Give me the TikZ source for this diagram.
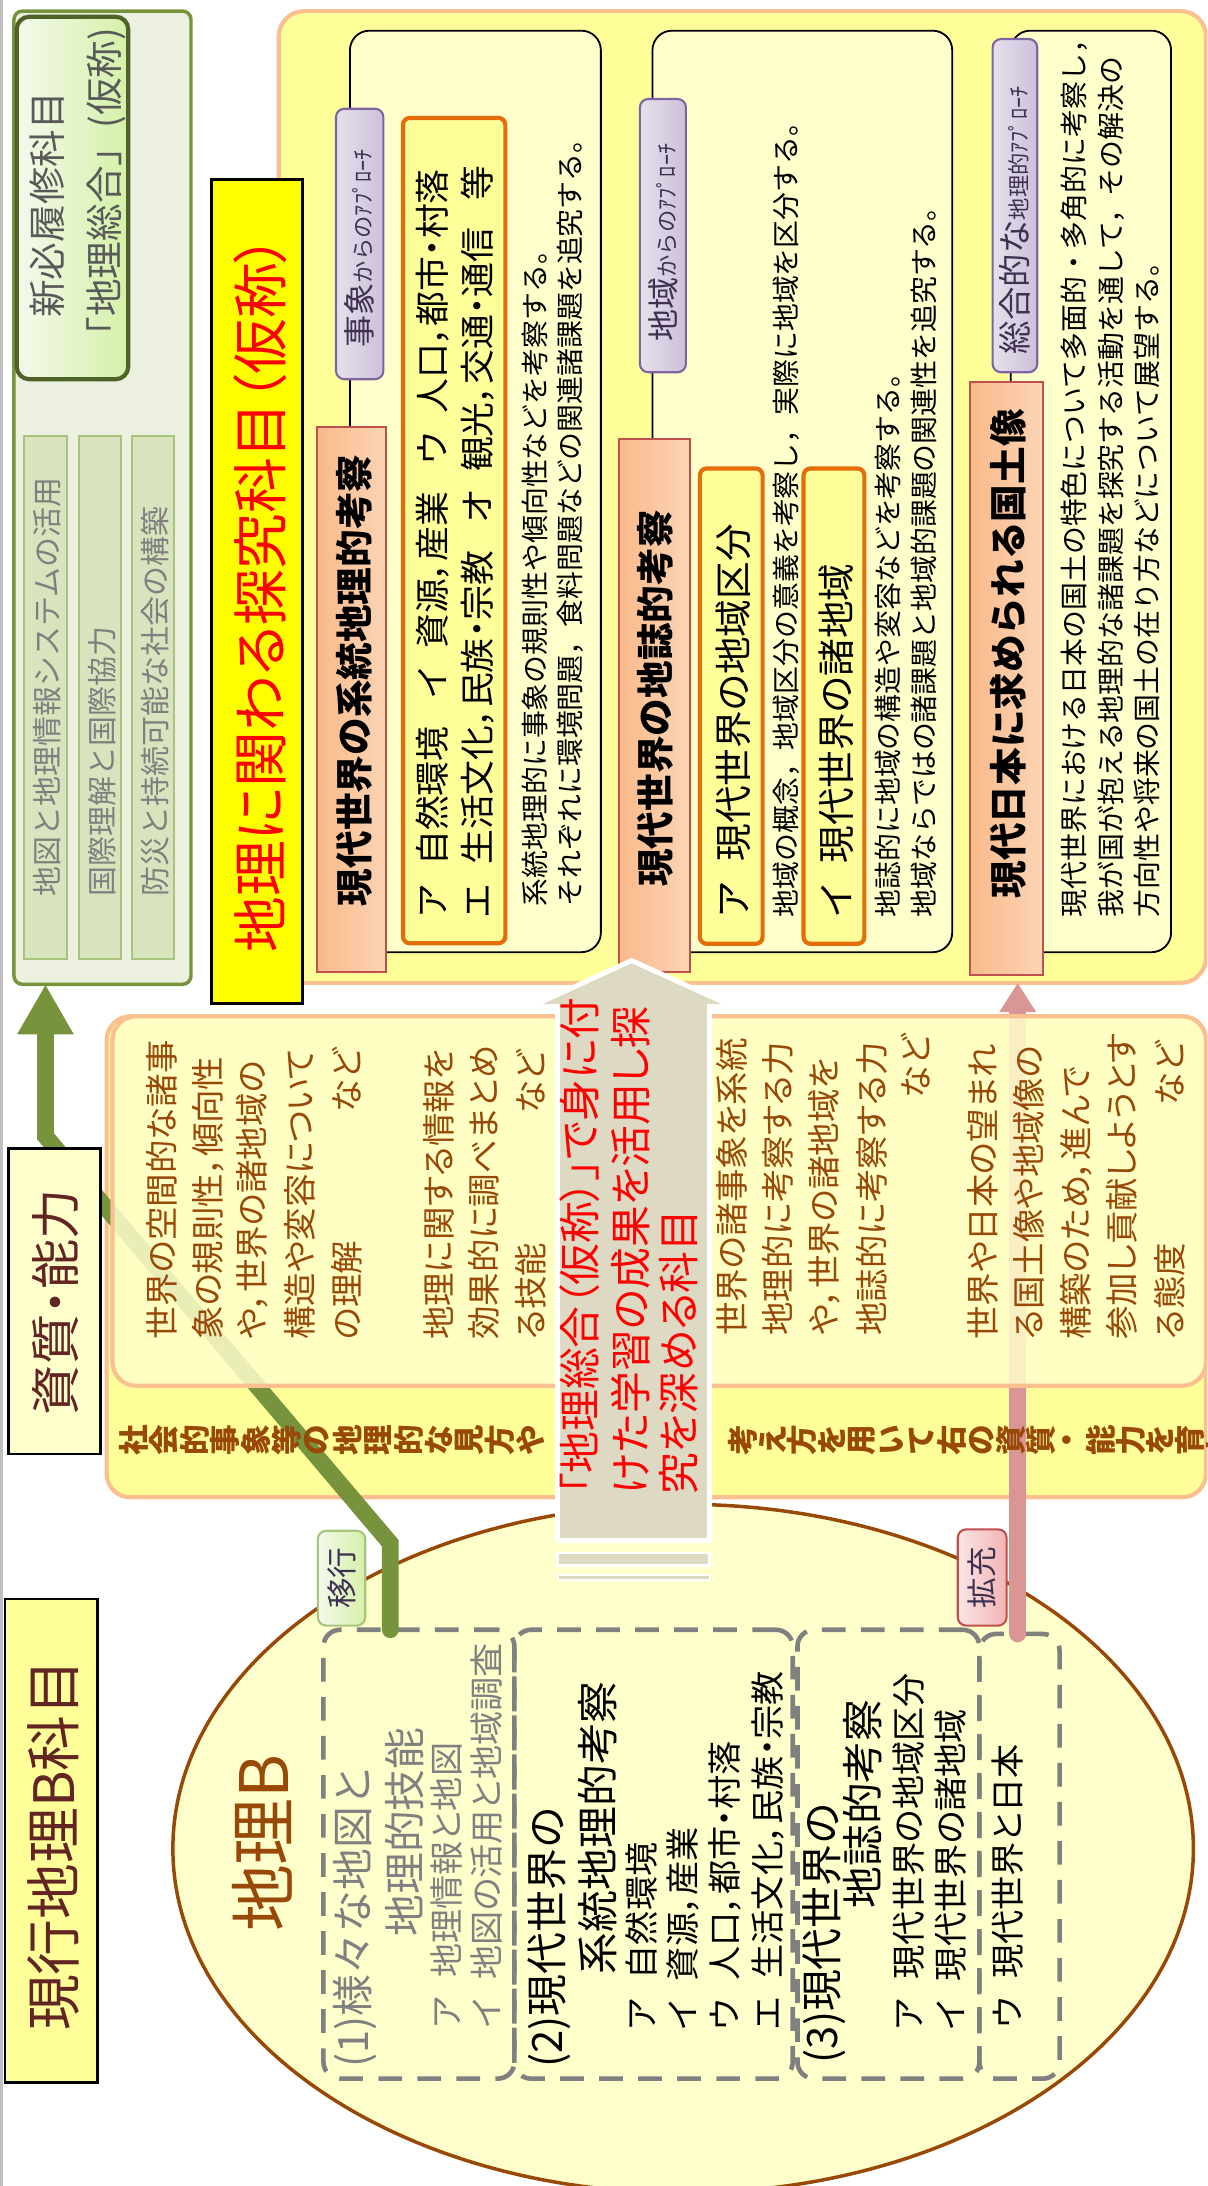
\documentclass[tikz,border=0pt]{standalone}
\usepackage{fontspec}
\setmainfont{Noto Sans CJK JP}
\newfontfamily\jpp{Noto Sans CJK JP}[RawFeature=+palt]
\usetikzlibrary{fit,shapes.geometric,arrows.meta}
\definecolor{cGreen}{HTML}{77933C}
\definecolor{cGreenDk}{HTML}{4F6228}
\definecolor{cGreenBg}{HTML}{EBF1DE}
\definecolor{cThinF}{HTML}{D7E4BD}
\definecolor{cThinB}{HTML}{A9C47F}
\definecolor{cNewL}{HTML}{F4F9EC}
\definecolor{cNewR}{HTML}{D5F0A8}
\definecolor{cGrayTxt}{HTML}{7F7F7F}
\definecolor{cDkGray}{HTML}{595959}
\definecolor{cYel}{HTML}{FFFF99}
\definecolor{cLtYel}{HTML}{FFFFCC}
\definecolor{cTitle}{HTML}{FFFF00}
\definecolor{cRed}{HTML}{FF0000}
\definecolor{cPeach}{HTML}{FAC090}
\definecolor{cOrange}{HTML}{E46C0A}
\definecolor{cSalL}{HTML}{F9B98A}
\definecolor{cSalR}{HTML}{FCD5B5}
\definecolor{cSalB}{HTML}{C0504D}
\definecolor{cLav1}{HTML}{E6E0EC}
\definecolor{cLav2}{HTML}{CCC0DA}
\definecolor{cLavB}{HTML}{8064A2}
\definecolor{cNavy}{HTML}{3F3151}
\definecolor{cBrown}{HTML}{984807}
\definecolor{cMaroon}{HTML}{632523}
\definecolor{cTaupe}{HTML}{DDD9C3}
\definecolor{cPink}{HTML}{D99694}
\definecolor{cPinkL}{HTML}{FBE5E5}
\definecolor{cPinkR}{HTML}{F2B5B5}
\definecolor{cDash}{HTML}{808080}
\definecolor{cEdge}{HTML}{BFBFBF}
\newcommand{\fz}[1]{\fontsize{#1}{#1}\selectfont}
\newcommand{\jgap}{\hspace{0.55em}}
\newcommand{\jgapw}{\hspace{0.8em}}
\begin{document}
\begin{tikzpicture}[x=1pt,y=-1pt,
  rt/.style={rotate=90,inner sep=0pt,outer sep=0pt},
  rtw/.style={rt,anchor=west},
  rte/.style={rt,anchor=east},
  rectx/.style={inner sep=0pt,outer sep=0pt},
  thinbox/.style={rectx,draw=cThinB,line width=1.5,fill=cThinF},
  colbox/.style={rectx,draw=black,line width=1.3,fill=cLtYel,rounded corners=14},
  tabbox/.style={rectx,draw=cLavB,line width=1.5,left color=cLav1,right color=cLav2,rounded corners=6},
  hdr/.style={rectx,draw=cSalB,line width=1.5,left color=cSalL,right color=cSalR},
  obox/.style={rectx,draw=cOrange,line width=3,fill=cYel,rounded corners=5},
  dbox/.style={rectx,draw=cDash,line width=3.3,dash pattern=on 17pt off 11pt,rounded corners=12},
  paratxt/.style={rtw,font=\fz{20}},
  hdrtxt/.style={rt,font=\fz{27}\bfseries},
  bandtxt/.style={rtw,text=cBrown,font=\jpp\fz{24}},
  bandend/.style={rte,text=cBrown,font=\jpp\fz{24}},
  itemtxt/.style={rtw,font=\jpp\fz{24.5}},
  secttxt/.style={rtw,font=\fz{30}},
  tatetxt/.style={rt,text=cBrown,font=\fz{22}\bfseries},
]
\useasboundingbox (0,0) rectangle (866,1568);
\clip (0,0) rectangle (866,1568);
\fill[white] (0,0) rectangle (866,1568);
\draw[cEdge,line width=2] (1,0) -- (1,1568);

% ---------- green panel (new subject)
\node[rectx,draw=cGreen,fill=cGreenBg,line width=2.5,rounded corners=6,fit={(10,8)(137,706)}] (gpanel) {};
\node[rectx,draw=cGreenDk,line width=3,rounded corners=9,left color=cNewL,right color=cNewR,fit={(12,12)(92,272)}] (newbox) {};
\node[rt,text=cDkGray,font=\fz{27}] (new1) at (34,147) {新必履修科目};
\node[rt,text=cDkGray,font=\fz{27}] (new2) at (76,137) {「地理総合」(仮称)};
\node[thinbox,fit={(17,313)(48,688)}] (th1) {};
\node[thinbox,fit={(56.6,313)(86.5,688)}] (th2) {};
\node[thinbox,fit={(94.4,313)(124.7,688)}] (th3) {};
\node[rtw,text=cGrayTxt,font=\fz{21.5}] (th1t) at (34,643) {地図と地理情報システムの活用};
\node[rtw,text=cGrayTxt,font=\fz{21.5}] (th2t) at (73,643) {国際理解と国際協力};
\node[rtw,text=cGrayTxt,font=\fz{21.5}] (th3t) at (111,643) {防災と持続可能な社会の構築};

% ---------- big upper panel
\node[rectx,draw=cPeach,fill=cYel,line width=3,rounded corners=18,fit={(200,8)(865,705)}] (bigp) {};
\node[colbox,fit={(251,22)(431,683)}] (c1) {};
\node[colbox,fit={(468,22)(683,683)}] (c2) {};
\node[colbox,fit={(725,22)(840,683)}] (c3) {};
\node[tabbox,fit={(241,78)(275,272)}] (tab1) {};
\node[tabbox,fit={(459,71)(492,267)}] (tab2) {};
\node[tabbox,fit={(712,28)(744,267)}] (tab3) {};
\node[rtw,text=cNavy] (tab1t) at (258,249) {\fz{23}事象\fz{16}からのｱﾌﾟﾛｰﾁ};
\node[rtw,text=cNavy] (tab2t) at (475.5,245) {\fz{23}地域\fz{16}からのｱﾌﾟﾛｰﾁ};
\node[rtw,text=cNavy] (tab3t) at (728,254) {\fz{24}総合的な\fz{16}地理的ｱﾌﾟﾛｰﾁ};
\node[hdr,fit={(227.5,306)(277,697)}] (h1) {};
\node[hdr,fit={(444,315)(494.6,697)}] (h2) {};
\node[hdr,fit={(696,274)(748,699.5)}] (h3) {};
\node[hdrtxt] (h1t) at (254,488) {現代世界の系統地理的考察};
\node[hdrtxt] (h2t) at (470,501) {現代世界の地誌的考察};
\node[hdrtxt] (h3t) at (723,469) {現代日本に求められる国土像};
\node[obox,fit={(289,84.6)(362.5,676.6)}] (o1) {};
\node[obox,fit={(502,336)(547,677)}] (o2) {};
\node[obox,fit={(576.4,336)(620,677)}] (o3) {};
\node[rtw,font=\jpp\fz{25}] (o1a) at (310.6,658) {ア\jgap 自然環境\jgapw イ\jgap 資源，産業\jgapw ウ\jgap 人口，都市・村落};
\node[rtw,font=\jpp\fz{25}] (o1b) at (342.8,658) {エ\jgap 生活文化，民族・宗教\jgapw オ\jgap 観光，交通・通信\jgapw 等};
\node[rtw,font=\jpp\fz{27}] (o2t) at (525.7,658) {ア\jgap 現代世界の地域区分};
\node[rtw,font=\jpp\fz{27}] (o3t) at (600,658) {イ\jgap 現代世界の諸地域};
\node[paratxt] (p1a) at (383.5,650) {系統地理的に事象の規則性や傾向性などを考察する。};
\node[paratxt] (p1b) at (409,650) {それぞれに環境問題，食料問題などの関連諸課題を追究する。};
\node[paratxt] (p2a) at (564,658) {地域の概念，地域区分の意義を考察し，実際に地域を区分する。};
\node[paratxt] (p2b) at (637,658) {地誌的に地域の構造や変容などを考察する。};
\node[paratxt] (p2c) at (662.5,658) {地域ならではの諸課題と地域的課題の関連性を追究する。};
\node[paratxt] (p3a) at (770.6,658) {現代世界における日本の国土の特色について多面的・多角的に考察し，};
\node[paratxt] (p3b) at (797,658) {我が国が抱える地理的な諸課題を探究する活動を通して，その解決の};
\node[paratxt] (p3c) at (823,658) {方向性や将来の国土の在り方などについて展望する。};

% ---------- title
\node[rectx,draw=black,fill=cTitle,line width=2,fit={(151.7,129)(217,720)}] (title) {};
\node[rt,text=cRed,font={\jpp\fz{40}}] (titlet) at (187,426) {地理に関わる探究科目（仮称）};

% ---------- ellipse (current subject)
\node[ellipse,draw=cBrown,fill=cLtYel,line width=2.5,minimum width=732,minimum height=494,inner sep=0pt] (ell) at (490,1326) {};
\node[rt,text=cBrown,font=\fz{48}] (chirib) at (188,1322) {地理B};
\node[dbox,fit={(232,1169)(369,1491)}] (b1) {};
\node[dbox,fit={(369,1169)(568.6,1491)}] (b2) {};
\node[dbox,fit={(572,1169)(702.5,1491)}] (b3) {};
\node[dbox,fit={(702.5,1172)(760,1491)}] (b4) {};
\node[secttxt,text=cDash] (b1a) at (255,1483) {(1)様々な地図と};
\node[secttxt,text=cDash] (b1b) at (290,1389) {地理的技能};
\node[itemtxt,text=cDash] (b1c) at (320,1455) {ア\jgap 地理情報と地図};
\node[itemtxt,text=cDash] (b1d) at (349,1455) {イ\jgap 地図の活用と地域調査};
\node[secttxt] (b2a) at (394,1483) {(2)現代世界の};
\node[secttxt] (b2b) at (429,1416) {系統地理的考察};
\node[itemtxt] (b2c) at (460,1456) {ア\jgap 自然環境};
\node[itemtxt] (b2d) at (490,1456) {イ\jgap 資源，産業};
\node[itemtxt] (b2e) at (520,1456) {ウ\jgap 人口，都市・村落};
\node[itemtxt] (b2f) at (551,1456) {エ\jgap 生活文化，民族・宗教};
\node[secttxt] (b3a) at (591,1480) {(3)現代世界の};
\node[secttxt] (b3b) at (619,1369) {地誌的考察};
\node[itemtxt] (b3c) at (652,1456) {ア\jgap 現代世界の地域区分};
\node[itemtxt] (b3d) at (682,1456) {イ\jgap 現代世界の諸地域};
\node[itemtxt] (b4a) at (723,1455) {ウ\jgap 現代世界と日本};

% ---------- middle band (outer)
\node[rectx,draw=cPeach,fill=cYel,line width=3,rounded corners=17,fit={(76.5,729)(865,1074)}] (band) {};

% ---------- connectors
\coordinate (gs) at (280,1169);
\coordinate (gb1) at (280,1107);
\coordinate (gb2) at (32.6,815);
\draw[cGreen,line width=12,line cap=round,-{Triangle[width=38pt,length=36pt]}] (gs) -- (gb1) -- (gb2) -- (gpanel.south -| gb2);
\coordinate (ps) at (730,1172);
\draw[cPink,line width=12,line cap=round,-{Triangle[width=25pt,length=21pt]}] (ps) -- (bigp.south -| ps);

% ---------- middle band (inner)
\node[rectx,draw=cPeach,fill=cLtYel,fill opacity=0.85,line width=3,rounded corners=17,fit={(80.7,729)(865,994)}] (bandin) {};
\node[bandtxt] (g1a) at (116,961) {世界の空間的な諸事};
\node[bandtxt] (g1b) at (149,961) {象の規則性，傾向性};
\node[bandtxt] (g1c) at (181,961) {や，世界の諸地域の};
\node[bandtxt] (g1d) at (215,961) {構造や変容について};
\node[bandtxt] (g1e) at (249,961) {の理解};
\node[bandend] (g1f) at (249,752) {など};
\node[bandtxt] (g2a) at (315,961) {地理に関する情報を};
\node[bandtxt] (g2b) at (347,961) {効果的に調べまとめ};
\node[bandtxt] (g2c) at (381,961) {る技能};
\node[bandend] (g2d) at (381,753) {など};
\node[bandtxt] (g3a) at (525,958) {世界の諸事象を系統};
\node[bandtxt] (g3b) at (558,958) {地理的に考察する力};
\node[bandtxt] (g3c) at (591,958) {や，世界の諸地域を};
\node[bandtxt] (g3d) at (625,958) {地誌的に考察する力};
\node[bandend] (g3e) at (657,742) {など};
\node[bandtxt] (g4a) at (705,961) {世界や日本の望まれ};
\node[bandtxt] (g4b) at (738,961) {る国土像や地域像の};
\node[bandtxt] (g4c) at (772,961) {構築のため，進んで};
\node[bandtxt] (g4d) at (805,961) {参加し貢献しようとす};
\node[bandtxt] (g4e) at (839,961) {る態度};
\node[bandend] (g4f) at (839,747) {など};
\foreach \c [count=\i] in {社,会,的,事,象,等,の,地,理,的,な,見,方,や}
  \node[tatetxt] (va\i) at ({85+21.9*\i-10.95},1033) {\c};
\foreach \c [count=\i] in {考,え,方,を,用,い,て,右,の,資,質,・,能,力,を,育,む}
  \node[tatetxt] (vb\i) at ({522+21.4*\i-10.7},1033) {\c};

% ---------- qualities box
\node[rectx,draw=black,fill=cLtYel,line width=2,fit={(6.2,824)(72.3,1043)}] (shishitsu) {};
\node[rt,text=cMaroon,font=\jpp\fz{36}] (shishitsut) at (40,934) {資質・能力};

% ---------- big grey arrow
\draw[fill=cTaupe,draw=white,line width=3.5] (453,689) -- (526,722) -- (509,722) -- (509,1105) -- (400,1105) -- (400,722) -- (381,722) -- cycle;
\draw[fill=cTaupe,draw=white,line width=2] (400,1114) rectangle (509,1123);
\draw[fill=cTaupe,draw=white,line width=1.5] (400,1129.5) rectangle (509,1133);
\node[rtw,text=cRed,font={\jpp\fz{30}}] (ar1) at (416,1072) {「地理総合（仮称）」で身に付};
\node[rtw,text=cRed,font={\jpp\fz{30}}] (ar2) at (452,1072) {けた学習の成果を活用し探};
\node[rtw,text=cRed,font={\jpp\fz{30}}] (ar3) at (487,1072) {究を深める科目};

% ---------- labels
\node[rectx,draw=cThinB,line width=1.5,left color=cNewL,right color=cNewR,rounded corners=6,fit={(228,1098)(262,1166)}] (iko) {};
\node[rt,text=cNavy,font=\fz{22}] (ikot) at (245,1132) {移行};
\node[rectx,draw=cSalB,line width=1.5,left color=cPinkL,right color=cPinkR,rounded corners=6,fit={(687,1097)(722,1166)}] (kaku) {};
\node[rt,text=cNavy,font=\fz{22}] (kakut) at (704.5,1131.5) {拡充};

% ---------- current subject label
\node[rectx,draw=black,fill=cYel,line width=2,fit={(3.6,1147)(70,1494)}] (genkou) {};
\node[rt,text=cMaroon,font=\fz{40}] (genkout) at (38,1323.5) {現行地理B科目};
\end{tikzpicture}
\end{document}
